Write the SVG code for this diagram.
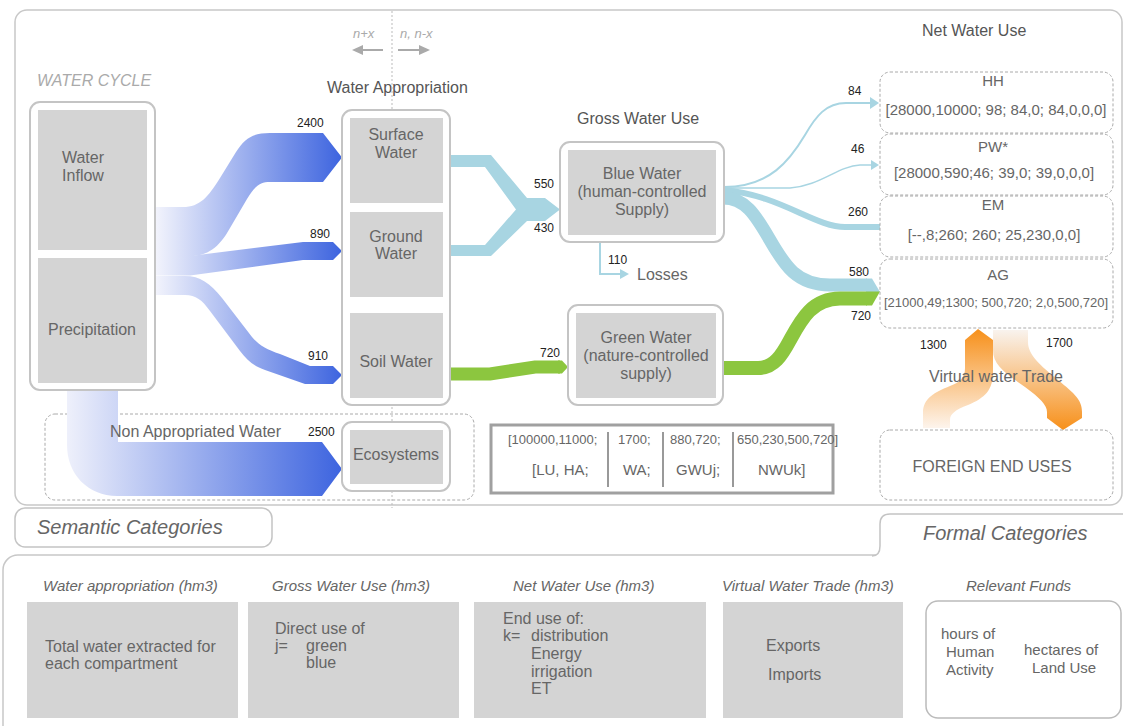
<svg xmlns="http://www.w3.org/2000/svg" width="1123" height="726" viewBox="0 0 1123 726">
<defs>
<linearGradient id="gb1" gradientUnits="userSpaceOnUse" x1="155" y1="0" x2="342" y2="0"><stop offset="0" stop-color="#f3f4fc"/><stop offset="1" stop-color="#3d64df"/></linearGradient>
<linearGradient id="gb2" gradientUnits="userSpaceOnUse" x1="67" y1="0" x2="342" y2="0"><stop offset="0" stop-color="#eef0fb"/><stop offset="1" stop-color="#3d64df"/></linearGradient>
<linearGradient id="go1" gradientUnits="userSpaceOnUse" x1="0" y1="428" x2="0" y2="329"><stop offset="0" stop-color="#fdf4ec"/><stop offset="1" stop-color="#f7901a"/></linearGradient>
<linearGradient id="go2" gradientUnits="userSpaceOnUse" x1="0" y1="330" x2="0" y2="430"><stop offset="0" stop-color="#f9f3ee"/><stop offset="1" stop-color="#f7901a"/></linearGradient>
<style>
text{font-family:"Liberation Sans",Arial,sans-serif;fill:#666}
.t16{font-size:16px}
.t15{font-size:15px}
.c{text-anchor:middle}
.num{font-size:12px;fill:#222}
.it{font-style:italic}
.outer{fill:#fff;stroke:#c4c4c4;stroke-width:2}
.inner{fill:#d4d4d4}
.dash{fill:none;stroke:#aaa;stroke-width:1;stroke-dasharray:3 2}
.lb{fill:#a8d5e2}
.gr{fill:#8cc63f}
.panel{fill:none;stroke:#c8c8c8;stroke-width:1.5}
.gbox{fill:#d4d4d4}
</style>
</defs>
<rect x="0" y="0" width="1123" height="726" fill="#fff"/>

<!-- panels -->
<g id="panels">
<rect class="panel" x="15" y="10" width="1107" height="495" rx="12"/>
<rect class="panel" x="3" y="555" width="1140" height="200" rx="15"/>
<rect x="15" y="508" width="257" height="39" rx="10" fill="#fff" stroke="#c4c4c4" stroke-width="1.5"/>
<text class="it" x="37" y="534" font-size="20">Semantic Categories</text>
<path d="M876,557 L876,524 Q876,514 888,514 L1140,514 L1140,557 Z" fill="#fff"/>
<path d="M872,556 Q880,556 880,546 L880,524 Q880,514 890,514 L1140,514" fill="none" stroke="#c4c4c4" stroke-width="1.5"/>
<text class="it" x="923" y="540" font-size="20">Formal Categories</text>
</g>

<!-- header labels -->
<g id="headers">
<text class="t16 it" x="37" y="86" style="fill:#aaa">WATER CYCLE</text>
<text class="t16" x="327" y="93" style="fill:#555">Water Appropriation</text>
<text class="t16" x="577" y="124" style="fill:#555">Gross Water Use</text>
<text class="t16" x="922" y="36" style="fill:#555">Net Water Use</text>
<text class="it" x="353" y="38" font-size="13" style="fill:#aaa">n+x</text>
<text class="it" x="400" y="38" font-size="13" style="fill:#aaa">n, n-x</text>
<line x1="392" y1="11" x2="392" y2="508" stroke="#bbb" stroke-width="1" stroke-dasharray="2 2"/>
<line x1="383" y1="50" x2="362" y2="50" stroke="#aaa" stroke-width="2"/>
<polygon points="352,50 363,45 363,55" fill="#aaa"/>
<line x1="398" y1="50" x2="420" y2="50" stroke="#aaa" stroke-width="2"/>
<polygon points="430,50 419,45 419,55" fill="#aaa"/>
</g>

<!-- non appropriated dashed area -->
<g id="non-appropriated">
<rect class="dash" x="45" y="414" width="429" height="86" rx="10"/>
</g>

<!-- connectors -->
<g id="connectors">
<path fill="url(#gb1)" d="M155,207 L183,207 C200,207 208,197 220,178 L236,152 C245,138 253,133 270,133 L323,133 L342,157.5 L323,182 L270,182 C260,182 255,186 247,199 L230,228 C219,248 207,256 190,256 L155,256 Z"/>
<path fill="url(#gb1)" d="M155,256 L190,256 L303,242 L333,242 L342,251 L333,260 L303,260 L190,275.5 L155,275.5 Z"/>
<path fill="url(#gb1)" d="M155,276 L185,276 C200,276 210,283 222,298 L252,337 C259,345 266,349 280,354 L310,366 L333,366 L342,375 L333,384 L305,384 L265,370 C253,366 247,360 240,351 L210,311 C202,300 196,295 185,295 L155,295 Z"/>
<path fill="url(#gb2)" d="M67,390 L118,390 L118,442 L322,442 L342,469 L322,496 L117,496 C88,496 67,474 67,445 Z"/>

<polygon class="lb" points="450,155 491,155 527,198 545,198 560,209.5 545,221 527,221 491,256 450,256 450,245 485,245 516,209.5 485,167 450,167"/>
<path d="M450,374 L490,374 L535,367 L560,367" fill="none" stroke="#8cc63f" stroke-width="13"/>
<polygon class="gr" points="558,360.5 562,360.5 568,367 562,373.5 558,373.5"/>

<path d="M600,242 L600,274 L621,274" fill="none" stroke="#a8d5e2" stroke-width="2"/>
<polygon class="lb" points="620,269 629,274 620,279"/>

<path d="M724,187 C770,187 790,160 805,135 C816,116 826,103 846,103 L871,103" fill="none" stroke="#a8d5e2" stroke-width="2"/>
<polygon class="lb" points="870,97 879,103 870,109"/>
<path d="M724,188 L790,188 C820,186 838,166 860,165 L871,165" fill="none" stroke="#a8d5e2" stroke-width="1.5"/>
<polygon class="lb" points="871,160 879,165 871,170"/>
<path d="M724,190 C780,195 815,227 845,227 L880,227" fill="none" stroke="#a8d5e2" stroke-width="6"/>
<path d="M723,198 C745,198 755,214 770,240 C785,266 797,285 830,285 L867,285" fill="none" stroke="#a8d5e2" stroke-width="13"/>
<path d="M723,368 L758,368 C774,368 782,355 790,340 C801,320 812,298.5 840,298.5 L867,298.5" fill="none" stroke="#8cc63f" stroke-width="14"/>
<polygon class="lb" points="866,278.5 872,278.5 880,292 866,292"/>
<polygon class="gr" points="866,291.5 880,291.5 872,305.5 866,305.5"/>

<path fill="url(#go1)" d="M923,428 L923,413 C923,398 935,392 950,386 C960,382 965,378 965,368 L965,340 L978,329 L993,340 L993,372 C993,390 985,398 968,405 C955,410 950,414 950,420 L950,428 Z"/>
<path fill="url(#go2)" d="M993,330 L1028,330 L1028,342 C1028,355 1040,365 1058,380 C1075,394 1082,400 1082,412 L1082,418 L1063,430 L1047,418 L1047,412 C1047,405 1040,398 1025,387 C1005,373 993,365 993,350 Z"/>

<text class="num" x="297" y="127">2400</text>
<text class="num" x="310" y="238">890</text>
<text class="num" x="308" y="360">910</text>
<text class="num" x="308" y="436">2500</text>
<text class="num" x="534" y="188">550</text>
<text class="num" x="534" y="232">430</text>
<text class="num" x="608" y="264">110</text>
<text class="t16" x="637" y="280">Losses</text>
<text class="num" x="540" y="357">720</text>
<text class="num" x="848" y="95">84</text>
<text class="num" x="851" y="153">46</text>
<text class="num" x="848" y="216">260</text>
<text class="num" x="849" y="276">580</text>
<text class="num" x="851" y="320">720</text>
<text class="num" x="920" y="349">1300</text>
<text class="num" x="1046" y="347">1700</text>
<text class="t16 c" x="996" y="382">Virtual water Trade</text>
<text class="t16" x="110" y="437">Non Appropriated Water</text>
</g>

<!-- nodes -->
<g id="water-cycle">
<rect class="outer" x="30" y="102" width="125" height="288" rx="10"/>
<rect class="inner" x="38" y="110" width="109" height="140"/>
<rect class="inner" x="38" y="258" width="109" height="125"/>
<text class="t16 c" x="83" y="163">Water</text>
<text class="t16 c" x="83" y="181">Inflow</text>
<text class="t16 c" x="92" y="335">Precipitation</text>
</g>
<g id="water-appropriation">
<rect class="outer" x="342" y="110" width="108" height="295" rx="10"/>
<rect class="inner" x="350" y="118" width="93" height="85"/>
<rect class="inner" x="350" y="212" width="93" height="85"/>
<rect class="inner" x="350" y="313" width="93" height="85"/>
<text class="t16 c" x="396" y="140">Surface</text>
<text class="t16 c" x="396" y="158">Water</text>
<text class="t16 c" x="396" y="242">Ground</text>
<text class="t16 c" x="396" y="259">Water</text>
<text class="t16 c" x="396" y="367">Soil Water</text>
</g>
<g id="ecosystems">
<rect class="outer" x="342" y="422" width="108" height="69" rx="10"/>
<rect class="inner" x="350" y="430" width="93" height="54"/>
<text class="t16 c" x="396" y="460">Ecosystems</text>
</g>
<g id="blue-water">
<rect class="outer" x="560" y="142" width="164" height="100" rx="10"/>
<rect class="inner" x="568" y="150" width="148" height="85"/>
<text class="t16 c" x="642" y="179">Blue Water</text>
<text class="t16 c" x="642" y="197">(human-controlled</text>
<text class="t16 c" x="642" y="215">Supply)</text>
</g>
<g id="green-water">
<rect class="outer" x="568" y="305" width="155" height="100" rx="10"/>
<rect class="inner" x="576" y="313" width="140" height="85"/>
<text class="t16 c" x="646" y="343">Green Water</text>
<text class="t16 c" x="646" y="361">(nature-controlled</text>
<text class="t16 c" x="646" y="379">supply)</text>
</g>
<g id="net-hh">
<rect class="dash" x="880" y="72" width="233" height="61" rx="10"/>
<text class="t15 c" x="993" y="86">HH</text>
<text class="t15 c" x="996" y="115">[28000,10000; 98; 84,0; 84,0,0,0]</text>
</g>
<g id="net-pw">
<rect class="dash" x="880" y="134" width="233" height="61" rx="10"/>
<text class="t15 c" x="993" y="152">PW*</text>
<text class="t15 c" x="994" y="178">[28000,590;46; 39,0; 39,0,0,0]</text>
</g>
<g id="net-em">
<rect class="dash" x="880" y="196" width="233" height="61" rx="10"/>
<text class="t15 c" x="993" y="210">EM</text>
<text class="t15 c" x="994" y="240">[--,8;260; 260; 25,230,0,0]</text>
</g>
<g id="net-ag">
<rect class="dash" x="880" y="259" width="233" height="69" rx="10"/>
<text class="t15 c" x="998" y="280">AG</text>
<text class="c" x="996" y="307" font-size="13">[21000,49;1300; 500,720; 2,0,500,720]</text>
</g>
<g id="foreign-end-uses">
<rect class="dash" x="880" y="430" width="233" height="70" rx="10"/>
<text class="t16 c" x="992" y="472">FOREIGN END USES</text>
</g>
<g id="formula">
<rect x="491" y="425" width="342" height="68" fill="#fff" stroke="#a0a0a0" stroke-width="3"/>
<line x1="608" y1="432" x2="608" y2="487" stroke="#999" stroke-width="2"/>
<line x1="663" y1="432" x2="663" y2="487" stroke="#999" stroke-width="2"/>
<line x1="733" y1="432" x2="733" y2="487" stroke="#999" stroke-width="2"/>
<text x="508" y="444" font-size="13">[100000,11000;</text>
<text x="618" y="444" font-size="13">1700;</text>
<text x="670" y="444" font-size="13">880,720;</text>
<text x="737" y="444" font-size="13">650,230,500,720]</text>
<text class="t15" x="532" y="475">[LU, HA;</text>
<text class="t15" x="623" y="475">WA;</text>
<text class="t15" x="676" y="475">GWUj;</text>
<text class="t15" x="758" y="475">NWUk]</text>
</g>

<!-- semantic categories -->
<g id="cat-water-appropriation">
<text class="t15 it" x="43" y="591">Water appropriation (hm3)</text>
<rect class="gbox" x="27" y="602" width="211" height="116"/>
<text class="t16" x="45" y="652">Total water extracted for</text>
<text class="t16" x="45" y="669">each compartment</text>
</g>
<g id="cat-gross">
<text class="t15 it" x="272" y="591">Gross Water Use (hm3)</text>
<rect class="gbox" x="248" y="602" width="211" height="116"/>
<text class="t16" x="275" y="634">Direct use of</text>
<text class="t16" x="275" y="651">j=</text>
<text class="t16" x="306" y="651">green</text>
<text class="t16" x="306" y="668">blue</text>
</g>
<g id="cat-net">
<text class="t15 it" x="513" y="591">Net Water Use (hm3)</text>
<rect class="gbox" x="474" y="602" width="232" height="116"/>
<text class="t16" x="503" y="624">End use of:</text>
<text class="t16" x="503" y="641">k=</text>
<text class="t16" x="531" y="641">distribution</text>
<text class="t16" x="531" y="659">Energy</text>
<text class="t16" x="531" y="677">irrigation</text>
<text class="t16" x="531" y="694">ET</text>
</g>
<g id="cat-vwt">
<text class="t15 it" x="722" y="591">Virtual Water Trade (hm3)</text>
<rect class="gbox" x="723" y="602" width="180" height="116"/>
<text class="t16" x="766" y="651">Exports</text>
<text class="t16" x="768" y="680">Imports</text>
</g>
<g id="cat-funds">
<text class="t15 it" x="966" y="591">Relevant Funds</text>
<rect x="926" y="601" width="195" height="117" rx="12" fill="#fff" stroke="#bbb" stroke-width="1.5"/>
<text class="t15" x="941" y="639">hours of</text>
<text class="t15" x="946" y="657">Human</text>
<text class="t15" x="946" y="675">Activity</text>
<text class="t15" x="1024" y="655">hectares of</text>
<text class="t15" x="1032" y="673">Land Use</text>
</g>
</svg>
